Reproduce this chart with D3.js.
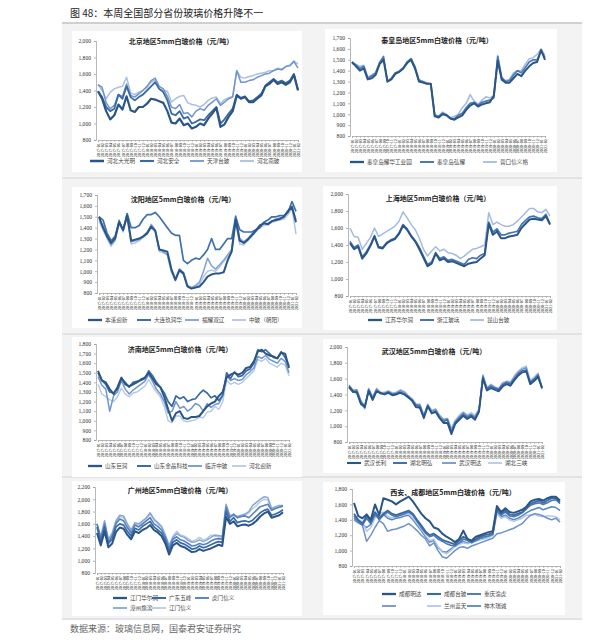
<!DOCTYPE html>
<html><head><meta charset="utf-8">
<script src="https://cdn.jsdelivr.net/npm/d3@7"></script>
<style>body{margin:0;background:#fff}svg{display:block}</style></head>
<body><svg id="c" width="595" height="644"></svg>
<script>
const dates = ["2017-01","2017-02","2017-03","2017-04","2017-05","2017-06","2017-07","2017-08","2017-09","2017-10","2017-11","2017-12",
"2018-01","2018-02","2018-03","2018-04","2018-05","2018-06","2018-07","2018-08","2018-09","2018-10","2018-11","2018-12",
"2019-01","2019-02","2019-03","2019-04","2019-05","2019-06","2019-07","2019-08","2019-09","2019-10","2019-11","2019-12",
"2020-01","2020-02","2020-03","2020-04","2020-05","2020-06","2020-07","2020-08","2020-09","2020-10","2020-11","2020-12",
"2021-01","2021-02"];

// 北京
const bjNames = ["河北大光明","河北安全","天津台玻","河北南玻"];
const bjA = [1390,1300,1150,1050,1100,1230,1170,1330,1160,1140,1200,1200,1240,1300,1290,1270,1250,1150,1010,1000,1060,980,1000,940,960,1000,980,1060,1120,1190,960,990,1080,1150,1340,1300,1320,1260,1260,1300,1340,1450,1480,1530,1480,1500,1470,1500,1590,1400];
const bjB = [1390,1320,1200,1150,1180,1350,1300,1450,1320,1280,1320,1350,1400,1450,1500,1420,1380,1280,1120,1100,1150,1060,1080,1000,1020,1050,1040,1100,1150,1200,1000,1050,1120,1180,1350,1310,1330,1270,1280,1320,1360,1460,1500,1540,1500,1520,1490,1520,1600,1410];
const bjC = [1470,1440,1250,1180,1220,1350,1330,1480,1340,1320,1360,1400,1450,1520,1550,1450,1420,1330,1200,1180,1230,1120,1130,1080,1150,1180,1160,1220,1260,1300,1220,1260,1300,1320,1640,1500,1500,1520,1530,1560,1580,1600,1610,1640,1660,1650,1690,1700,1750,1670];
const bjD = [1470,1400,1300,1380,1420,1440,1450,1560,1370,1350,1380,1400,1440,1500,1530,1420,1400,1390,1260,1300,1330,1340,1250,1230,1220,1200,1230,1280,1310,1320,1240,1290,1310,1330,1640,1560,1550,1570,1580,1600,1610,1620,1640,1640,1670,1660,1690,1710,1760,1720];

// 秦皇岛
const qhdNames = ["秦皇岛耀华工业园","秦皇岛弘耀","营口信义格"];
const qhdA = [1480,1440,1400,1420,1320,1330,1360,1460,1500,1300,1320,1370,1390,1420,1470,1500,1420,1300,1290,1280,1280,980,970,1000,990,960,950,970,990,1040,1080,1100,1070,1090,1100,1110,1170,1490,1320,1290,1290,1330,1370,1350,1400,1440,1470,1480,1590,1500];
const qhdB = [1470,1450,1420,1440,1330,1350,1380,1470,1530,1300,1330,1380,1390,1420,1480,1510,1430,1310,1300,1280,1280,990,980,1010,990,960,960,990,1010,1060,1100,1110,1080,1110,1120,1130,1150,1530,1340,1300,1310,1360,1400,1380,1430,1480,1500,1500,1580,1520];
const qhdC = [1480,1460,1440,1450,1340,1360,1380,1480,1520,1310,1330,1380,1400,1430,1480,1510,1440,1320,1300,1290,1280,1000,980,1020,1000,970,980,1000,1060,1100,1180,1120,1090,1130,1160,1150,1170,1540,1310,1310,1320,1380,1400,1400,1460,1510,1520,1550,1600,1540];

// 沈阳
const syNames = ["本溪迎新","大连玖润华","福耀双辽","中玻（朝阳）"];
const syA = [1500,1400,1320,1260,1300,1450,1380,1510,1280,1290,1300,1320,1350,1410,1370,1200,1190,1180,1020,920,1010,980,860,840,850,860,900,950,970,980,980,990,1100,1180,1470,1280,1260,1290,1330,1370,1420,1440,1430,1460,1470,1480,1500,1550,1590,1450];
const syB = [1500,1470,1350,1280,1320,1460,1380,1530,1400,1400,1420,1480,1520,1520,1540,1500,1450,1400,1350,1330,1330,1100,1070,1100,1120,1110,1150,1200,1300,1200,1200,1250,1300,1300,1500,1380,1360,1360,1360,1380,1400,1450,1470,1500,1500,1510,1510,1540,1640,1550];
const syC = [1480,1420,1330,1240,1290,1470,1370,1520,1270,1280,1290,1320,1360,1430,1380,1200,1180,1150,1000,930,1020,990,870,850,870,900,1000,1120,1050,1020,1060,1100,1150,1200,1510,1300,1270,1300,1340,1380,1420,1440,1440,1460,1480,1490,1500,1560,1600,1470];
const syD = [1460,1380,1300,1230,1280,1440,1360,1500,1250,1260,1280,1310,1340,1400,1360,1180,1170,1150,990,910,1000,970,860,850,860,880,950,1000,1010,1000,1040,1090,1130,1180,1460,1250,1240,1280,1320,1360,1400,1420,1430,1450,1460,1470,1480,1520,1580,1340];

// 上海
const shNames = ["江苏华尔润","浙江玻璃","昆山台玻"];
const shA = [1420,1350,1380,1240,1300,1390,1500,1370,1360,1420,1450,1470,1530,1630,1580,1500,1440,1350,1250,1150,1180,1300,1220,1240,1200,1210,1190,1170,1150,1180,1190,1200,1240,1280,1650,1520,1560,1480,1480,1500,1510,1520,1600,1650,1700,1710,1700,1690,1740,1640];
const shB = [1440,1370,1400,1260,1320,1400,1510,1380,1370,1430,1460,1480,1540,1640,1590,1510,1450,1370,1270,1170,1200,1310,1240,1260,1220,1230,1210,1190,1170,1230,1250,1240,1280,1300,1670,1550,1590,1520,1520,1540,1550,1560,1640,1690,1730,1740,1720,1710,1760,1650];
const shC = [1600,1500,1490,1350,1420,1490,1600,1500,1530,1560,1590,1620,1680,1790,1720,1640,1580,1480,1350,1270,1330,1380,1330,1350,1310,1300,1280,1240,1270,1310,1350,1360,1380,1400,1780,1640,1670,1640,1620,1620,1640,1680,1730,1780,1830,1830,1790,1780,1820,1740];

// 济南
const jnNames = ["山东巨润","山东金晶科技","临沂中玻","河北迎新"];
const jnA = [1520,1420,1400,1330,1280,1350,1450,1380,1360,1380,1400,1430,1450,1500,1440,1380,1350,1250,1120,1000,1080,1100,1030,1020,1040,1040,1050,1100,1150,1180,1200,1260,1300,1450,1480,1500,1480,1500,1550,1560,1620,1720,1740,1700,1680,1670,1650,1710,1700,1550];
const jnB = [1500,1420,1380,1300,1290,1330,1440,1400,1350,1400,1410,1420,1440,1520,1470,1400,1350,1290,1200,1150,1260,1230,1250,1200,1220,1230,1280,1320,1290,1240,1260,1210,1270,1500,1440,1510,1460,1470,1520,1540,1600,1740,1720,1740,1700,1660,1650,1720,1660,1570];
const jnC = [1460,1370,1330,1100,1260,1300,1420,1330,1280,1320,1350,1380,1410,1480,1410,1330,1280,1200,1080,1100,1200,1130,1150,1100,1130,1180,1160,1100,1180,1140,1170,1180,1260,1480,1420,1440,1420,1430,1480,1510,1550,1670,1650,1680,1640,1620,1600,1650,1620,1500];
const jnD = [1380,1280,1250,1220,1200,1250,1340,1280,1250,1290,1300,1330,1360,1430,1360,1300,1250,1150,1000,980,1050,1050,1000,990,1000,1010,1040,1030,1090,1100,1150,1120,1200,1420,1380,1400,1380,1400,1440,1480,1520,1640,1620,1650,1600,1580,1560,1600,1580,1470];

// 武汉
const whNames = ["武汉长利","湖北明弘","武汉明达","湖北三峡"];
const whA = [1500,1440,1420,1280,1240,1440,1330,1440,1420,1400,1420,1390,1400,1420,1400,1370,1320,1240,1230,1100,1250,1160,1180,1100,1040,1040,900,1030,1080,1130,1090,1120,1080,1180,1600,1450,1480,1460,1440,1500,1530,1510,1580,1640,1680,1690,1530,1570,1620,1480];
const whB = [1490,1430,1440,1300,1250,1460,1350,1450,1410,1410,1430,1400,1410,1430,1410,1360,1330,1260,1250,1120,1260,1170,1190,1110,1060,1080,920,1050,1100,1150,1110,1140,1100,1190,1620,1470,1500,1480,1460,1520,1550,1530,1600,1660,1700,1710,1550,1590,1640,1490];
const whC = [1520,1450,1460,1320,1220,1470,1360,1470,1420,1420,1440,1410,1420,1450,1430,1380,1340,1270,1270,1130,1270,1190,1210,1130,1080,1090,950,1060,1120,1170,1130,1150,1120,1210,1640,1480,1520,1490,1470,1540,1560,1550,1620,1680,1720,1740,1560,1600,1660,1470];
const whD = [1510,1460,1450,1330,1260,1480,1370,1480,1430,1430,1450,1420,1430,1460,1440,1390,1350,1280,1280,1140,1280,1200,1220,1140,1090,1100,980,1080,1140,1180,1140,1170,1140,1220,1650,1490,1530,1500,1480,1550,1570,1560,1640,1700,1740,1760,1580,1620,1670,1500];

// 广州
const gzNames = ["江门华尔润","广东五峰","虎门信义","漳州旗滨","江门信义"];
const gzA = [1450,1250,1480,1220,1280,1470,1540,1520,1420,1350,1480,1450,1500,1530,1580,1500,1460,1400,1280,1100,1250,1290,1240,1220,1180,1140,1150,1190,1160,1180,1200,1230,1260,1240,1710,1600,1640,1560,1580,1590,1570,1600,1650,1720,1770,1800,1700,1720,1740,1790];
const gzB = [1550,1300,1550,1280,1350,1550,1600,1580,1480,1400,1530,1500,1560,1600,1640,1550,1500,1450,1330,1150,1300,1340,1290,1270,1230,1190,1200,1240,1210,1230,1260,1290,1310,1300,1800,1640,1700,1620,1640,1650,1630,1660,1720,1780,1820,1840,1740,1760,1790,1830];
const gzC = [1600,1350,1600,1300,1400,1600,1680,1650,1540,1450,1580,1550,1600,1650,1700,1600,1560,1500,1380,1200,1350,1390,1340,1320,1280,1240,1250,1280,1260,1280,1320,1350,1360,1350,1870,1700,1760,1700,1720,1730,1700,1760,1820,1880,1900,1920,1820,1850,1870,1890];
const gzD = [1600,1400,1650,1350,1450,1650,1740,1730,1600,1500,1620,1600,1650,1700,1780,1680,1620,1560,1420,1250,1380,1440,1400,1380,1330,1300,1310,1340,1310,1340,1380,1420,1410,1400,1920,1740,1740,1720,1740,1760,1800,1900,1950,2000,2040,2030,1850,1880,1900,1900];
const gzE = [1600,1380,1600,1330,1430,1620,1720,1700,1580,1480,1600,1580,1630,1680,1760,1660,1600,1540,1400,1230,1400,1480,1420,1400,1360,1320,1340,1380,1340,1360,1420,1400,1390,1380,1900,1720,1730,1700,1720,1740,1780,1850,1900,1960,2000,1990,1820,1850,1870,1880];

// 西安、成都
const xaNames = ["成都明达","成都台玻","重庆渝虎","","兰州蓝天","神木瑞诚"];
const xaA = [1620,1450,1420,1470,1400,1600,1460,1680,1660,1640,1600,1640,1670,1700,1640,1560,1480,1420,1380,1300,1280,1220,1180,1150,1110,1150,1260,1150,1130,1180,1200,1220,1240,1250,1580,1500,1550,1500,1490,1510,1530,1570,1640,1660,1670,1650,1680,1700,1700,1650];
const xaB = [1480,1400,1350,1450,1380,1500,1420,1480,1520,1480,1460,1480,1500,1520,1480,1400,1330,1250,1200,1220,1180,1140,1120,1100,1080,1130,1180,1150,1120,1150,1180,1200,1210,1230,1550,1480,1520,1470,1460,1480,1500,1550,1610,1630,1650,1620,1650,1680,1680,1630];
const xaC = [1450,1380,1330,1420,1350,1480,1400,1460,1500,1460,1440,1460,1480,1500,1460,1380,1300,1230,1180,1200,1150,1120,1090,1070,1060,1100,1150,1130,1100,1130,1160,1180,1190,1210,1530,1460,1500,1450,1440,1460,1490,1540,1590,1610,1620,1600,1620,1650,1660,1610];
const xaD = [1400,1360,1330,1120,1200,1300,1390,1350,1250,1270,1280,1300,1320,1350,1310,1260,1200,1150,1060,1100,1000,920,900,950,1000,1040,1050,1030,1060,1080,1100,1120,1140,1160,1220,1230,1250,1270,1290,1320,1350,1410,1460,1480,1470,1450,1420,1400,1420,1370];
const xaE = [1450,1400,1380,1250,1300,1420,1480,1500,1450,1420,1440,1460,1470,1480,1420,1350,1280,1200,1130,1150,1050,980,960,1000,1050,1080,1100,1090,1110,1120,1140,1150,1170,1200,1480,1420,1440,1400,1380,1400,1420,1460,1460,1470,1450,1440,1450,1450,1440,1400];
const xaF = [1420,1380,1340,1300,1340,1450,1430,1470,1420,1400,1420,1430,1450,1460,1400,1330,1260,1180,1110,1130,1040,990,980,1020,1060,1090,1120,1100,1110,1130,1150,1160,1180,1200,1500,1440,1460,1420,1400,1420,1450,1490,1520,1540,1560,1530,1550,1570,1560,1520];

const svg = d3.select("#c");
const CN = "'Noto Sans CJK SC', sans-serif";
const NUM = "'Liberation Serif', serif";

svg.append("rect").attr("x",62).attr("y",24).attr("width",520).attr("height",596).attr("fill","#f3f3f3");
svg.append("text").attr("x",70).attr("y",17).attr("font-family",CN).attr("font-size",10).attr("fill","#222")
  .text("图 48：本周全国部分省份玻璃价格升降不一");
svg.append("line").attr("x1",62).attr("x2",582).attr("y1",23).attr("y2",23).attr("stroke","#888").attr("stroke-width",0.8);
[178,334,477,619].forEach(y=>svg.append("line").attr("x1",62).attr("x2",582).attr("y1",y).attr("y2",y).attr("stroke","#d2d2d2").attr("stroke-width",1));
svg.append("text").attr("x",70).attr("y",632).attr("font-family",CN).attr("font-size",9).attr("fill","#666")
  .text("数据来源：玻璃信息网，国泰君安证券研究");

const panels = [
 {title:"北京地区5mm白玻价格（元/吨）", names:bjNames, data:[bjA,bjB,bjC,bjD], y:[800,2000], step:200,
  box:[72,31,230,141], plot:[96,298,41,140], tx:181, ty:44, colors:["#2a5585","#3a6aa6","#7195cb","#a9c0e3"],
  widths:[2.2,1.8,1.5,1.5], leg:[[90,161],[140,161],[190,161],[240,161]]},
 {title:"秦皇岛地区5mm白玻价格（元/吨）", names:qhdNames, data:[qhdA,qhdB,qhdC], y:[800,1700], step:100,
  box:[325,29,232,143], plot:[350,545,38,136], tx:437, ty:43, colors:["#2a5585","#4a7ab6","#a3bbe0"],
  widths:[2,1.7,1.5], leg:[[350,162],[420,162],[483,162]]},
 {title:"沈阳地区5mm白玻价格（元/吨）", names:syNames, data:[syA,syB,syC,syD], y:[800,1700], step:100,
  box:[72,187,230,141], plot:[97,296,195,293], tx:183, ty:202, colors:["#2a5585","#3f70ad","#7fa0d2","#b0c5e6"],
  widths:[2,1.7,1.5,1.5], leg:[[88,320],[137,320],[185,320],[232,320]]},
 {title:"上海地区5mm白玻价格（元/吨）", names:shNames, data:[shA,shB,shC], y:[800,2000], step:200,
  box:[323,186,234,144], plot:[348,550,194,296], tx:438, ty:201, colors:["#2a5585","#4475b2","#a3bbe0"],
  widths:[2,1.7,1.5], leg:[[368,320],[420,320],[470,320]]},
 {title:"济南地区5mm白玻价格（元/吨）", names:jnNames, data:[jnA,jnB,jnC,jnD], y:[800,1800], step:100,
  box:[72,337,230,140], plot:[96,289,344,440], tx:180, ty:352, colors:["#2a5585","#3a6aa6","#7195cb","#b3c7e7"],
  widths:[2,1.7,1.5,1.4], leg:[[88,466],[137,466],[188,466],[232,466]]},
 {title:"武汉地区5mm白玻价格（元/吨）", names:whNames, data:[whA,whB,whC,whD], y:[800,2000], step:200,
  box:[323,339,234,134], plot:[347,542,347,442], tx:434, ty:354, colors:["#2a5585","#3a6aa6","#7195cb","#b3c7e7"],
  widths:[1.8,1.6,1.5,1.4], leg:[[347,463],[393,463],[442,463],[488,463]]},
 {title:"广州地区5mm白玻价格（元/吨）", names:gzNames, data:[gzA,gzB,gzC,gzD,gzE], y:[800,2200], step:200,
  box:[72,481,230,135], plot:[95,283,487,573], tx:180, ty:493, colors:["#2a5585","#3a6aa6","#5682bb","#86a6d6","#b3c7e7"],
  widths:[2,1.7,1.6,1.5,1.4], leg:[[113,598],[152,598],[195,598],[113,608],[152,608]]},
 {title:"西安、成都地区5mm白玻价格（元/吨）", names:xaNames, data:[xaA,xaB,xaC,xaD,xaE,xaF], y:[800,1800], step:200,
  box:[323,482,242,133], plot:[352,560,489,566], tx:453, ty:495, colors:["#2a5585","#3a6aa6","#4a78b2","#6d92c9","#b3c7e7","#5a86c0"],
  widths:[2,1.8,1.6,1.5,1.5,1.5], leg:[[382,594],[427,594],[467,594],[382,606],[427,606],[467,606]]}
];

panels.forEach(p=>{
  const g = svg.append("g");
  g.append("rect").attr("x",p.box[0]).attr("y",p.box[1]).attr("width",p.box[2]).attr("height",p.box[3]).attr("fill","#fff");
  const x = d3.scalePoint().domain(dates).range([p.plot[0]+2,p.plot[1]]);
  const y = d3.scaleLinear().domain(p.y).range([p.plot[3],p.plot[2]]);
  const ticks = d3.range(p.y[0], p.y[1]+1, p.step);
  const yAxis = g.append("g").attr("transform",`translate(${p.plot[0]},0)`)
    .call(d3.axisLeft(y).tickValues(ticks).tickFormat(d3.format(",")).tickSize(2).tickPadding(3));
  yAxis.selectAll("text").attr("font-family",NUM).attr("font-size",5.6).attr("fill","#333");
  yAxis.selectAll("line,path").attr("stroke","#999").attr("stroke-width",0.7);
  const xAxis = g.append("g").attr("transform",`translate(0,${p.plot[3]})`)
    .call(d3.axisBottom(x).tickSize(2).tickPadding(1));
  xAxis.select("path").attr("stroke","#999").attr("stroke-width",0.7);
  xAxis.selectAll("line").attr("stroke","#999").attr("stroke-width",0.5);
  xAxis.selectAll("text").attr("font-family",NUM).attr("font-size",4.3).attr("fill","#111")
    .attr("text-anchor","end").attr("dy","0.35em")
    .attr("transform","translate(0,3) rotate(-90)")
    .attr("x",0).attr("y",0);
  const line = d3.line().x((d,i)=>x(dates[i])).y(d=>y(d));
  for(let s=p.data.length-1;s>=0;s--){
    g.append("path").datum(p.data[s]).attr("d",line).attr("fill","none")
      .attr("stroke",p.colors[s]).attr("stroke-width",p.widths[s]).attr("stroke-linejoin","round");
  }
  g.append("text").attr("x",p.tx).attr("y",p.ty).attr("text-anchor","middle").attr("font-family",CN)
    .attr("font-size",7).attr("font-weight","bold").attr("fill","#222").text(p.title);
  p.names.forEach((n,i)=>{
    const [lx,ly] = p.leg[i];
    g.append("line").attr("x1",lx).attr("x2",lx+14).attr("y1",ly).attr("y2",ly)
      .attr("stroke",p.colors[i]).attr("stroke-width",p.widths[i]+0.3);
    g.append("text").attr("x",lx+17).attr("y",ly+2).attr("font-family",CN).attr("font-size",5.6)
      .attr("fill","#444").text(n);
  });
});
</script></body></html>
